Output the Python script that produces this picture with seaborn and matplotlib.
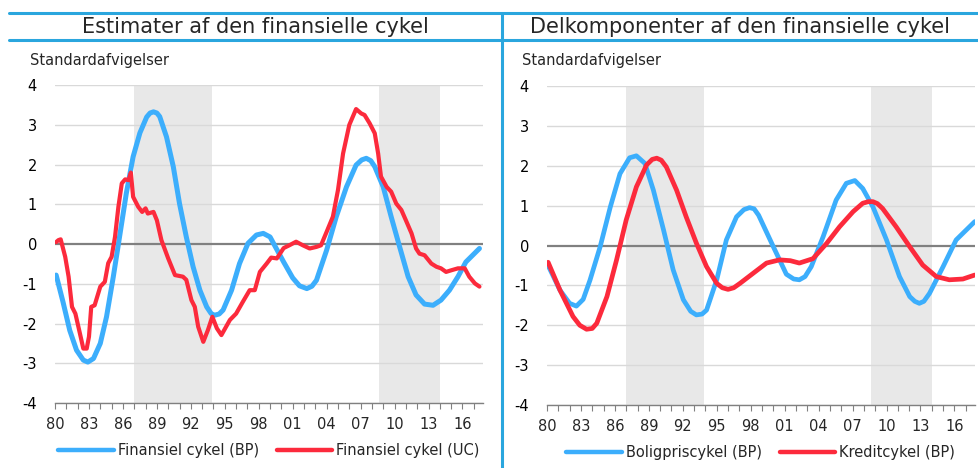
import matplotlib
matplotlib.use("Agg")
import matplotlib.pyplot as plt
from matplotlib.lines import Line2D
import seaborn as sns
import pandas as pd

# Venstre figur: Finansiel cykel (BP)
bp_aar = [1980.1, 1980.7, 1981.3, 1981.9, 1982.5, 1982.9, 1983.4, 1984.0, 1984.55, 1985.15,
          1985.7, 1986.3, 1986.9, 1987.5, 1988.1, 1988.4, 1988.7, 1989.0, 1989.25, 1989.85,
          1990.45, 1991.0, 1991.6, 1992.2, 1992.8, 1993.4, 1993.8, 1994.1, 1994.5, 1994.85,
          1995.6, 1996.3, 1997.05, 1997.8, 1998.4, 1999.0, 1999.55, 2000.2, 2001.0, 2001.6,
          2002.25, 2002.7, 2003.1, 2004.0, 2004.85, 2005.75, 2006.6, 2007.1, 2007.5, 2007.9,
          2008.25, 2009.0, 2009.7, 2010.45, 2011.2, 2011.9, 2012.65, 2013.4, 2014.1, 2014.85,
          2015.6, 2016.3, 2017.5]
bp_vaerdi = [-0.78, -1.45, -2.17, -2.67, -2.92, -2.97, -2.88, -2.5, -1.83, -0.82,
             0.18, 1.28, 2.2, 2.8, 3.2, 3.3, 3.33, 3.3, 3.21, 2.7,
             1.95, 1.02, 0.18, -0.57, -1.16, -1.58, -1.75, -1.79, -1.76, -1.66,
             -1.16, -0.49, 0.02, 0.23, 0.27, 0.18, -0.11, -0.45, -0.85, -1.05,
             -1.12, -1.06, -0.91, -0.15, 0.69, 1.44, 1.99, 2.12, 2.16, 2.1,
             1.95, 1.44, 0.69, -0.07, -0.82, -1.28, -1.51, -1.54, -1.41, -1.16,
             -0.82, -0.45, -0.11]

# Venstre figur: Finansiel cykel (UC)
uc_aar = [1980.1, 1980.3, 1980.5, 1980.9, 1981.2, 1981.5, 1981.8, 1982.2, 1982.5, 1982.8,
          1983.0, 1983.2, 1983.5, 1984.0, 1984.4, 1984.7, 1985.0, 1985.3, 1985.6, 1985.9,
          1986.2, 1986.5, 1986.7, 1986.9, 1987.35, 1987.7, 1988.0, 1988.2, 1988.7, 1989.0,
          1989.4, 1990.0, 1990.6, 1991.3, 1991.6, 1992.05, 1992.35, 1992.65, 1993.1, 1993.5,
          1993.9, 1994.3, 1994.7, 1995.45, 1996.0, 1996.6, 1997.2, 1997.65, 1998.1, 1998.7,
          1999.1, 1999.6, 2000.2, 2000.7, 2001.3, 2001.9, 2002.5, 2003.1, 2003.5, 2004.0,
          2004.55, 2005.0, 2005.45, 2006.0, 2006.6, 2007.05, 2007.35, 2007.8, 2008.25, 2008.55,
          2008.8, 2009.3, 2009.7, 2010.15, 2010.6, 2011.0, 2011.5, 2011.9, 2012.2, 2012.65,
          2013.25, 2013.7, 2014.1, 2014.55, 2015.0, 2015.6, 2016.2, 2016.6, 2017.1, 2017.5]
uc_vaerdi = [0.05, 0.1, 0.12, -0.32, -0.82, -1.58, -1.75, -2.25, -2.63, -2.63,
             -2.33, -1.58, -1.54, -1.07, -0.95, -0.48, -0.32, 0.18, 0.94, 1.53,
             1.63, 1.61, 1.8, 1.19, 0.94, 0.81, 0.9, 0.77, 0.81, 0.6,
             0.1, -0.36, -0.78, -0.82, -0.9, -1.41, -1.58, -2.08, -2.46, -2.17,
             -1.83, -2.12, -2.29, -1.91, -1.75, -1.45, -1.16, -1.16, -0.7, -0.49,
             -0.34, -0.36, -0.1, -0.03, 0.06, -0.03, -0.11, -0.07, -0.03, 0.31,
             0.69, 1.36, 2.28, 3.0, 3.4, 3.29, 3.25, 3.04, 2.79, 2.28,
             1.7, 1.44, 1.32, 1.02, 0.86, 0.6, 0.27, -0.11, -0.24, -0.28,
             -0.49, -0.57, -0.61, -0.7, -0.66, -0.61, -0.61, -0.82, -0.99, -1.07]

# Højre figur: Boligpriscykel (BP)
bolig_aar = [1980.1, 1981.15, 1982.0, 1982.6, 1983.2, 1983.8, 1984.7, 1985.6, 1986.45, 1987.3,
             1987.9, 1988.65, 1989.4, 1990.3, 1991.15, 1992.05, 1992.7, 1993.2, 1993.7, 1994.1,
             1995.0, 1995.85, 1996.75, 1997.4, 1997.9, 1998.3, 1998.7, 2000.0, 2001.15, 2001.8,
             2002.3, 2002.8, 2003.35, 2004.4, 2005.55, 2006.45, 2007.2, 2007.9, 2008.8, 2010.0,
             2011.15, 2012.05, 2012.5, 2012.9, 2013.3, 2013.8, 2015.0, 2016.15, 2017.8]
bolig_vaerdi = [-0.5, -1.12, -1.45, -1.52, -1.35, -0.87, -0.03, 0.97, 1.8, 2.2,
                2.25, 2.06, 1.39, 0.39, -0.61, -1.36, -1.65, -1.74, -1.72, -1.62,
                -0.86, 0.14, 0.72, 0.9, 0.95, 0.92, 0.76, -0.03, -0.72, -0.84,
                -0.86, -0.78, -0.53, 0.22, 1.14, 1.56, 1.63, 1.43, 0.97, 0.14,
                -0.78, -1.28, -1.4, -1.45, -1.4, -1.2, -0.53, 0.14, 0.6]

# Højre figur: Kreditcykel (BP)
kredit_aar = [1980.1, 1981.15, 1982.3, 1982.9, 1983.5, 1984.0, 1984.4, 1985.3, 1986.15, 1987.0,
              1987.9, 1988.8, 1989.3, 1989.7, 1990.1, 1990.55, 1991.45, 1992.3, 1993.2, 1994.1,
              1995.0, 1995.5, 1996.0, 1996.5, 1997.05, 1998.2, 1999.4, 2000.55, 2001.5, 2002.3,
              2003.5, 2004.7, 2005.85, 2007.05, 2007.9, 2008.4, 2008.8, 2009.2, 2009.65, 2010.85,
              2012.05, 2013.2, 2014.4, 2015.55, 2016.75, 2017.8]
kredit_vaerdi = [-0.42, -1.12, -1.78, -2.0, -2.1, -2.08, -1.95, -1.28, -0.36, 0.64,
                 1.47, 2.02, 2.16, 2.19, 2.14, 1.97, 1.39, 0.72, 0.06, -0.53,
                 -0.95, -1.06, -1.1, -1.06, -0.95, -0.7, -0.44, -0.36, -0.38, -0.44,
                 -0.33, 0.05, 0.47, 0.85, 1.06, 1.1, 1.1, 1.05, 0.93, 0.47,
                 -0.03, -0.49, -0.78, -0.86, -0.84, -0.74]

titler = ["Estimater af den finansielle cykel", "Delkomponenter af den finansielle cykel"]
bands = [(1987.0, 1993.9), (2008.6, 2014.0)]
aar_ticks = list(range(1980, 2019, 3))
aar_labels = [f"{a % 100:02d}" for a in aar_ticks]

BLAA = "#3caefc"
ROED = "#fc2a3c"
RAMME = "#2aa6de"

sns.set_style("white")
plt.rcParams["font.family"] = ["DejaVu Sans"]
plt.rcParams["axes.unicode_minus"] = False

fig = plt.figure(figsize=(9.79, 4.68), dpi=100)
ax1 = fig.add_axes([0.0562, 0.1389, 0.437, 0.679])
ax2 = fig.add_axes([0.5587, 0.1346, 0.437, 0.6816])

panels = [
    (ax1, [(bp_aar, bp_vaerdi, BLAA, 3.6, "Finansiel cykel (BP)"),
           (uc_aar, uc_vaerdi, ROED, 3.0, "Finansiel cykel (UC)")]),
    (ax2, [(bolig_aar, bolig_vaerdi, BLAA, 3.4, "Boligpriscykel (BP)"),
           (kredit_aar, kredit_vaerdi, ROED, 3.4, "Kreditcykel (BP)")]),
]

for ax, serier in panels:
    for b0, b1 in bands:
        ax.axvspan(b0, b1, color="#e8e8e8", lw=0, zorder=0)
    for y in range(-4, 5):
        if y != 0:
            ax.axhline(y, color="#d9d9d9", lw=1.0, zorder=1)
    ax.axhline(0, color="#808080", lw=1.6, zorder=2)
    handles = []
    for x, y, c, lw, navn in serier:
        df = pd.DataFrame({"aar": x, "v": y})
        sns.lineplot(data=df, x="aar", y="v", ax=ax, color=c, lw=lw, zorder=3,
                     solid_capstyle="round", solid_joinstyle="round")
        handles.append(Line2D([], [], color=c, lw=3.2, solid_capstyle="round", label=navn))
    ax.set_xlim(1980, 2017.8)
    ax.set_ylim(-4, 4)
    ax.set_yticks(range(-4, 5))
    ax.set_xticks(aar_ticks)
    ax.set_xticklabels(aar_labels)
    ax.set_xticks(range(1980, 2018), minor=True)
    ax.set_xlabel("")
    ax.set_ylabel("")
    for s in ["top", "right", "left"]:
        ax.spines[s].set_visible(False)
    ax.spines["bottom"].set_color("#808080")
    ax.spines["bottom"].set_linewidth(1.0)
    ax.tick_params(axis="y", length=0, pad=13, labelsize=10.5, colors="black")
    ax.tick_params(axis="x", which="both", direction="out", length=4, width=0.8,
                   color="#808080", bottom=True, labelsize=10.5, pad=6)
    ax.legend(handles=handles, loc="upper center", ncol=2, frameon=False,
              bbox_to_anchor=(0.5, -0.085), fontsize=10.5, handlelength=3.8,
              handletextpad=0.3, columnspacing=1.2)

fig.text(30 / 979, 1 - 61 / 468, "Standardafvigelser", fontsize=10.5, va="center", ha="left")
fig.text(522 / 979, 1 - 61 / 468, "Standardafvigelser", fontsize=10.5, va="center", ha="left")
fig.text(255 / 979, 1 - 27 / 468, titler[0], fontsize=15, va="center", ha="center")
fig.text(740 / 979, 1 - 27 / 468, titler[1], fontsize=15, va="center", ha="center")

# Ramme om overskrifter
fig.add_artist(Line2D([9 / 979, 1], [1 - 13 / 468] * 2, color=RAMME, lw=2.2, transform=fig.transFigure))
fig.add_artist(Line2D([9 / 979, 1], [1 - 40 / 468] * 2, color=RAMME, lw=2.2, transform=fig.transFigure))
fig.add_artist(Line2D([502 / 979] * 2, [0, 1 - 13 / 468], color=RAMME, lw=2.2, transform=fig.transFigure))

fig.savefig("out.png", dpi=100)
